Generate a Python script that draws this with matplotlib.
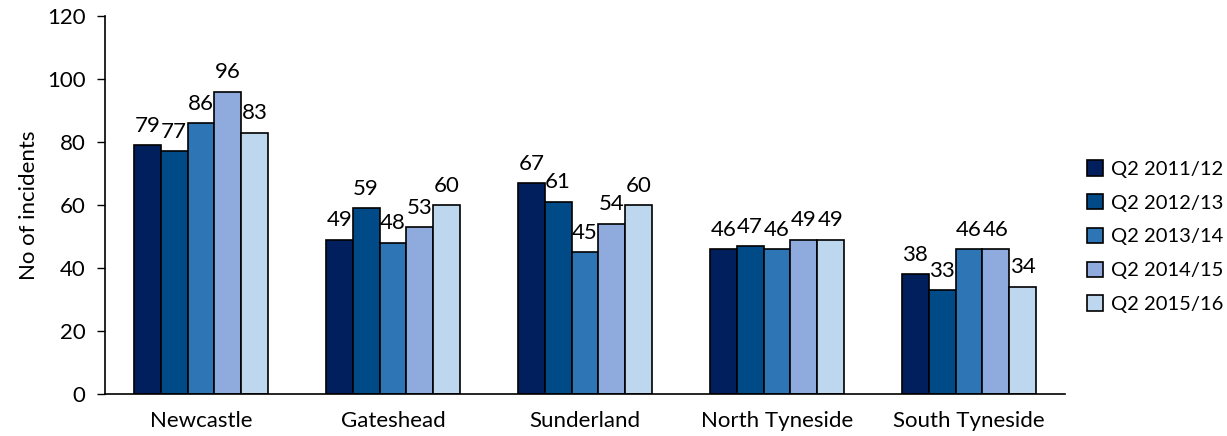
import numpy as np
import matplotlib.pyplot as plt

plt.rcParams['font.family'] = ['Lato', 'DejaVu Sans']

areas = ["Newcastle", "Gateshead", "Sunderland", "North Tyneside", "South Tyneside"]
periods = ["Q2 2011/12", "Q2 2012/13", "Q2 2013/14", "Q2 2014/15", "Q2 2015/16"]
q2_2011 = [79, 49, 67, 46, 38]
q2_2012 = [77, 59, 61, 47, 33]
q2_2013 = [86, 48, 45, 46, 46]
q2_2014 = [96, 53, 54, 49, 46]
q2_2015 = [83, 60, 60, 49, 34]
series = [q2_2011, q2_2012, q2_2013, q2_2014, q2_2015]
colors = ["#001F5C", "#004A87", "#2E75B6", "#8FAADC", "#BDD7EE"]

fig = plt.figure(figsize=(12.27, 4.36), dpi=100)
ax = fig.add_axes([0.0856, 0.0963, 0.7824, 0.8670])

x = np.arange(len(areas))
w = 0.14
for i, (vals, col) in enumerate(zip(series, colors)):
    pos = x + (i - 2) * w
    ax.bar(pos, vals, w, color=col, edgecolor="black", linewidth=1.2, label=periods[i])
    for p, v in zip(pos, vals):
        ax.text(p, v + 3, str(v), ha="center", va="bottom", fontsize=16)

ax.set_xlim(-0.5, len(areas) - 0.5)
ax.set_ylim(0, 120)
ax.set_yticks(range(0, 121, 20))
ax.set_xticks(x)
ax.set_xticklabels(areas)
ax.tick_params(axis="x", length=0, pad=12, labelsize=16)
ax.tick_params(axis="y", length=6, width=1, labelsize=16, direction="out", pad=8)
ax.set_ylabel("No of incidents", fontsize=16, labelpad=6)
for s in ["top", "right"]:
    ax.spines[s].set_visible(False)
ax.spines["left"].set_linewidth(1.2)
ax.spines["bottom"].set_linewidth(1.2)

ax.legend(loc="upper left", bbox_to_anchor=(1.0146, 0.64), frameon=False, fontsize=14.5,
          borderaxespad=0, handlelength=0.8, handleheight=0.8, handletextpad=0.4,
          labelspacing=0.8)

fig.savefig("out.png", dpi=100)
